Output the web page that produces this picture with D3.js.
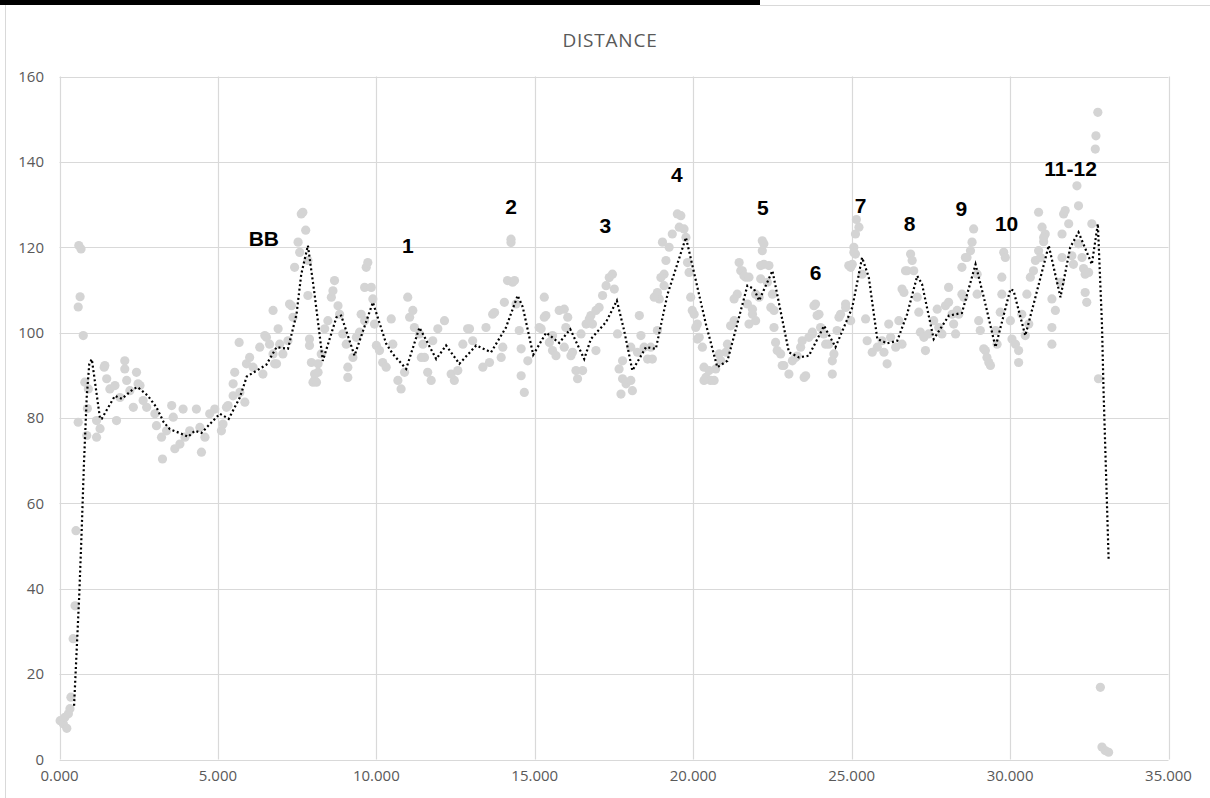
<!DOCTYPE html>
<html>
<head>
<meta charset="utf-8">
<script src="https://cdn.jsdelivr.net/npm/d3@7"></script>
<style>
  html, body { margin: 0; padding: 0; background: #fff; }
  svg { display: block; }
  .tickText { font-family: "Open Sans", sans-serif; font-size: 15px; fill: #595959; }
  .chartTitle { font-family: "Open Sans", sans-serif; font-size: 19px; letter-spacing: 0.8px; fill: #595959; }
  .lapLabel { font-family: "Liberation Sans", Arial, sans-serif; font-size: 21px; font-weight: bold; fill: #000; }
</style>
</head>
<body>
<div id="chart"></div>
<script>
// axis ticks
const xTicks = [0, 5, 10, 15, 20, 25, 30, 35];
const yTicks = [0, 20, 40, 60, 80, 100, 120, 140, 160];

// measured samples [km, distance]
const samples = [
  [0.02,9.1],[0.12,8.4],[0.23,7.3],[0.17,9.9],[0.28,10.7],[0.33,11.9],[0.36,14.6],[0.43,28.3],[0.49,36],[0.52,53.6],
  [0.59,79],[0.75,99.3],[0.61,120.4],[0.68,119.6],[0.59,106],[0.65,108.4],[0.80,88.4],[0.88,82.2],[0.86,75.9],[0.91,86.8],
  [1.17,75.5],[1.28,77.5],[1.17,79.4],[1.41,91.9],[1.43,92.3],[1.49,89.2],[1.59,86.8],[1.75,87.6],[1.80,79.4],[1.91,84.8],
  [2.06,93.4],[2.06,91.5],[2.12,88.8],[2.22,86.4],[2.33,82.5],[2.43,90.7],[2.54,87.6],[2.48,88],[2.64,84.1],[2.75,82.5],
  [3.01,81],[3.06,78.2],[3.22,75.5],[3.25,70.4],[3.38,77],[3.54,82.9],[3.59,80.2],[3.64,72.8],[3.80,73.9],[3.90,82.1],
  [3.96,75.5],[4.11,77],[4.32,82.1],[4.43,77.8],[4.48,72],[4.59,75.5],[4.74,81],[4.90,82.1],[5.11,77],[5.16,78.6],
  [5.27,82.5],[5.32,82.9],[5.48,88],[5.53,90.7],[5.48,85.2],[5.67,97.7],[5.69,86],[5.85,83.7],[5.90,92.7],[6.00,94.2],
  [6.11,91.9],[6.32,96.6],[6.42,90.3],[6.53,98.9],[6.74,95],[6.85,92.7],[6.95,97.3],
  [7.68,128.2],[7.63,127.8],[7.77,124],[7.53,121.2],[7.58,118.8],[7.42,115.3],[7.84,116.9],[7.84,108.7],[7.32,106.3],[6.74,105.2],
  [6.90,100.9],[6.48,99.3],[6.63,97.3],[6.79,92.7],[7.05,95],[7.21,98.1],[7.37,103.6],[7.89,97],[7.95,93],[8.05,88.8],
  [8.00,88.4],[8.16,90.7],[8.16,92.7],[8.26,95],[8.37,100.9],[8.47,102.8],[8.58,108.3],[8.68,112.2],[8.63,109.8],[8.79,106.3],
  [8.84,104.3],[8.94,99.7],[9.05,97.3],[9.10,91.9],[9.10,89.5],[9.26,94.2],[9.37,98.9],[9.47,100.1],[9.52,104.3],[9.63,102.8],
  [9.68,115.3],[9.73,116.4],[9.63,110.6],[9.84,110.6],[9.89,107.9],[9.94,102],[10.00,97],[10.10,95.8],[10.20,93],[10.31,91.9],
  [10.47,103.2],[10.52,97.3],[10.68,88.8],[10.78,86.8],[10.89,90.7],[10.99,108.3],[11.05,103.6],[11.15,105.2],[11.20,101.2],[11.36,99.7],
  [11.47,97.3],[11.52,94.2],[11.62,90.7],[11.73,88.8],[11.78,98.1],[11.94,100.9],[12.15,102.8],[7.26,106.7],[7.89,98.5],[8.05,90.3],[8.11,88.4],
  [11.42,94.2],[12.46,88.8],[12.36,90.3],[12.88,100.9],[13.36,91.9],[13.46,101.2],[13.73,104.7],[13.94,94.2],[14.04,107.1],[14.14,112.2],
  [14.30,111.8],[14.25,121.9],[14.25,121.1],[14.51,100.5],[14.57,89.9],[14.67,86],[14.78,93.4],[15.30,108.3],[15.30,103.6],[15.20,100.9],
  [15.56,99.3],[15.77,105.2],[15.93,96.6],[16.04,103.6],[16.14,94.6],[16.30,91.1],[16.35,89.2],[16.51,91.1],[16.62,102],[16.77,104],
  [16.93,105.2],[12.57,91.1],[12.73,97.3],[12.94,100.9],[13.04,98.1],[13.57,93],[13.67,104.3],[13.99,96.6],[14.36,112.2],[14.41,106.7],
  [14.57,96.2],[15.14,101.2],[15.35,104],[15.46,97.7],[15.56,95.8],[15.67,94.6],[15.93,105.5],[15.98,101.2],[16.19,95.4],[16.46,99.7],
  [16.72,103.2],[16.82,102],[16.93,95.8],[17.03,105.9],[17.14,108.7],[17.25,111],[17.35,112.9],[17.45,113.7],[17.51,110.2],[17.61,99.7],
  [17.66,91.5],[17.77,93.4],[17.77,89.2],[17.72,85.6],[17.88,88],[18.03,88.8],[18.08,86.4],[18.03,96.6],[18.30,104],[18.35,99.3],
  [18.45,96.6],[18.24,95.4],[18.56,93.8],[18.66,96.6],
  [18.87,100.5],[18.93,107.9],[19.08,113.7],[19.14,116.9],[19.03,121.2],[19.24,120],[19.34,123.1],[19.50,127.8],[19.61,127.4],[19.56,124.7],
  [19.71,124.3],[19.77,122.3],[19.82,116.4],[19.87,114.1],[19.92,108.3],[20.03,104.3],[20.13,102],[20.13,98.5],[20.29,96.6],[20.34,91.9],
  [20.40,89.5],[20.55,88.8],[20.71,91.5],[20.87,93.4],[21.03,95.4],[21.29,102.8],[21.39,109],[21.45,116.4],[21.55,114.5],[21.66,113],
  [21.71,106.7],[21.76,102],[21.87,104.3],[21.97,109],[22.13,112.6],[22.18,119.2],[22.23,120.8],[22.23,116],[22.39,115.7],[22.50,109],
  [22.45,105.9],[22.55,101.2],[22.60,97.7],[22.76,95],[22.86,92.3],[23.02,90.3],[23.23,94.2],[23.39,96.6],[23.55,89.9],[23.76,99.7],
  [23.86,106.7],[23.97,104.3],[24.18,97.3],[24.39,90.3],[24.44,95],[24.60,103.6],[24.81,106.7],[24.97,102.8],[25.07,120],[25.12,123.1],
  [25.23,124.7],[25.02,116],[25.12,118.4],[18.98,112.9],[19.08,111],[18.87,109.4],[18.77,108.3],[18.71,93.8],[19.97,105.2],[20.08,101.2],
  [20.19,98.9],[20.34,88.8],[20.50,91.1],[20.66,88.8],[20.82,95],[21.08,97.3],[21.18,101.6],[21.29,107.9],[21.50,114.5],[21.60,113.3],
  [21.76,113],[21.87,105.5],[21.97,102.8],[22.08,108.3],[22.18,121.5],[22.13,115.7],[22.34,111.8],[22.55,105.2],[22.65,95.8],[22.81,92.3],
  [23.13,93.4],[23.28,94.5],[23.50,89.5],[23.44,98.1],[23.65,98.9],[23.76,100.1],[23.81,106.3],[23.91,104],[24.02,101.2],[24.12,99.7],
  [24.28,97.3],[24.39,93.4],[24.54,100.5],[24.65,104.3],[24.81,105.9],[24.91,115.7],
  [25.07,118.8],[25.15,126.5],[24.97,115.3],[25.33,113.7],[25.44,103.2],[25.49,98.1],[25.65,95.4],[25.81,96.6],[25.96,98.1],[26.02,95.4],
  [26.12,92.7],[26.17,102],[26.23,98.9],[26.39,96.6],[26.49,102.8],[26.59,97.3],[26.70,114.5],[26.75,114.5],[26.86,118.4],[26.91,116.9],
  [26.96,114.5],[26.59,110.2],[26.65,109.4],[27.07,108.3],[27.12,104.8],[27.17,100.1],[27.28,98.9],[27.33,95.8],[27.43,99.7],[27.59,102.8],
  [27.70,105.5],[27.75,101.2],[27.85,99.7],[27.96,106.3],[28.06,110.6],[28.06,107.1],[28.17,104.3],[28.22,102],[28.33,105.2],[28.38,104.3],
  [28.28,99.7],[28.48,109],[28.54,108.3],[28.48,115.3],[28.59,117.6],[28.64,117.6],[28.75,119.2],[28.80,121.2],[28.85,124.3],[28.96,113.7],
  [28.96,109],[29.01,102.8],[29.06,100.5],[29.17,96.2],[29.22,95.8],[29.27,94.2],[29.33,93],[29.38,92.3],[29.54,100.5],[29.59,97.3],
  [29.69,104.8],[29.74,113],[29.80,118.8],[29.85,117.6],[29.74,109],[30.01,102.8],[30.06,98.5],[30.17,97.3],[30.27,95.8],[30.27,93],
  [30.37,104.3],[30.48,99.3],[30.59,102],[30.53,109],[30.64,113],[30.74,114.5],[30.80,116.9],[30.90,119.2],[30.90,128.2],[31.01,124.7],
  [31.11,123.1],[31.06,121.3],
  [31.06,122.3],[30.96,117.6],[31.32,107.9],[31.43,105.2],[31.32,101.2],[31.32,97.3],[31.59,111.8],[31.64,117.6],[31.64,123.1],[31.69,127.8],
  [31.74,128.6],[31.85,125.5],[31.95,118],[32.00,116],[32.11,134.4],[32.16,129.7],[32.16,120.8],[32.27,117.6],[32.32,115],[32.37,113.7],
  [32.48,114.1],[32.37,109.4],[32.42,107.1],[32.58,125.5],[32.69,143],[32.71,146.1],[32.77,151.6],[32.79,89.2],[32.85,16.9],[32.90,2.9],
  [33.00,2.1],[33.11,1.7]
];

// moving average trendline [km, distance]
const trend = [
  [0.46,12.6],[0.62,38],[0.70,53.6],[0.77,69],[0.86,85],[0.94,92.7],[1.02,93.8],[1.28,79.8],[1.33,79.8],[1.75,85.2],
  [1.97,84.5],[2.33,86.8],[2.47,87.2],[2.79,85.2],[3.06,82.5],[3.29,79],[3.48,77.4],[3.85,76.3],[4.06,75.6],[4.27,77],
  [4.48,76.5],[4.80,79],[5.06,81],[5.34,79.8],[5.69,84.8],[5.91,89.7],[6.22,91.1],[6.53,92.5],[6.85,96.6],[7.21,96.2],
  [7.48,104.3],[7.63,113.7],[7.84,120.4],[8.05,109],[8.31,93.4],[8.74,103.6],[8.89,104],[9.31,94.6],[9.89,107.1],[10.31,97.4],
  [10.52,95],[10.94,91.5],[11.36,101.2],[11.89,93.8],[12.20,97],[12.62,92.7],[13.15,97],[13.62,95.4],[14.09,101.2],[14.46,108.7],
  [14.62,106],[14.95,94.8],[15.36,100],[15.77,97.6],[16.12,100.8],[16.56,93.8],[16.77,98.5],[17.25,102.5],[17.59,107.5],[17.82,100.5],
  [18.08,91.1],[18.51,96.6],[18.82,96.2],[19.19,109],[19.77,122.3],[20.40,102],[20.76,91.9],[21.08,93.4],[21.71,111],[21.92,110.2],
  [22.08,107.5],[22.50,114.5],[23.02,95.4],[23.34,94.2],[23.65,94.6],[24.13,101.6],[24.49,96.6],[25.02,105.9],[25.33,117.6],[25.54,113],
  [25.81,98.5],[26.12,97.5],[26.44,98.1],[26.75,104.3],[27.07,113.3],[27.22,111.4],[27.59,98.5],[28.07,104],[28.48,104.6],[28.91,116],
  [29.17,108.3],[29.54,96.6],[30.01,110.2],[30.11,109.8],[30.48,99.3],[30.80,108.3],[31.22,120.4],[31.59,108.3],[31.90,120],[32.16,123.5],
  [32.58,116],[32.77,125.5],[32.90,102],[32.95,86.4],[33.11,47]
];

// lap annotations
const lapNames = ['BB', '1', '2', '3', '4', '5', '6', '7', '8', '9', '10', '11-12'];
const lapKm = [6.45, 10.99, 14.25, 17.23, 19.48, 22.2, 23.86, 25.28, 26.83, 28.46, 29.89, 31.91];
const lapDist = [121.9, 120.4, 129.5, 125.1, 136.9, 129.3, 114.1, 129.7, 125.5, 129.1, 125.6, 138.4];

const width = 1210, height = 798;
const svg = d3.select('#chart').append('svg')
  .attr('width', width)
  .attr('height', height);

// screenshot frame
svg.append('rect').attr('x', 0).attr('y', 0).attr('width', 760).attr('height', 5).attr('fill', '#000');
svg.append('line').attr('x1', 760).attr('x2', width).attr('y1', 5.5).attr('y2', 5.5).attr('stroke', '#d9d9d9');
svg.append('line').attr('x1', 5.5).attr('x2', 5.5).attr('y1', 5).attr('y2', height).attr('stroke', '#d9d9d9');

const x = d3.scaleLinear().domain([0, 35]).range([59.5, 1168.5]);
const y = d3.scaleLinear().domain([0, 160]).range([759.5, 76.5]);

// gridlines
svg.append('g')
  .selectAll('line')
  .data(xTicks)
  .join('line')
  .attr('x1', d => Math.round(x(d)) + 0.5)
  .attr('x2', d => Math.round(x(d)) + 0.5)
  .attr('y1', y(160))
  .attr('y2', y(0))
  .attr('stroke', '#d9d9d9')
  .attr('stroke-width', 1.2);

svg.append('g')
  .selectAll('line')
  .data(yTicks)
  .join('line')
  .attr('x1', x(0))
  .attr('x2', x(35))
  .attr('y1', d => Math.round(y(d)) + 0.5)
  .attr('y2', d => Math.round(y(d)) + 0.5)
  .attr('stroke', '#d9d9d9')
  .attr('stroke-width', 1.2);

// tick labels
svg.append('g')
  .selectAll('text')
  .data(yTicks)
  .join('text')
  .attr('class', 'tickText')
  .attr('x', 44)
  .attr('y', d => y(d))
  .attr('dy', '0.35em')
  .attr('text-anchor', 'end')
  .text(d => d);

svg.append('g')
  .selectAll('text')
  .data(xTicks)
  .join('text')
  .attr('class', 'tickText')
  .attr('x', d => x(d))
  .attr('y', 781)
  .attr('text-anchor', 'middle')
  .text(d3.format('.3f'));

// title
svg.append('text')
  .attr('class', 'chartTitle')
  .attr('x', 610)
  .attr('y', 47)
  .attr('text-anchor', 'middle')
  .text('DISTANCE');

// scatter points
svg.append('g')
  .selectAll('circle')
  .data(samples)
  .join('circle')
  .attr('cx', d => x(d[0]))
  .attr('cy', d => y(d[1]))
  .attr('r', 4.6)
  .attr('fill', '#d4d4d4');

// dotted moving average
const line = d3.line()
  .x(d => x(d[0]))
  .y(d => y(d[1]));

svg.append('path')
  .datum(trend)
  .attr('d', line)
  .attr('fill', 'none')
  .attr('stroke', '#000')
  .attr('stroke-width', 2.2)
  .attr('stroke-dasharray', '2 2.6');

// lap labels
svg.append('g')
  .selectAll('text')
  .data(lapNames)
  .join('text')
  .attr('class', 'lapLabel')
  .attr('x', (d, i) => x(lapKm[i]))
  .attr('y', (d, i) => y(lapDist[i]))
  .attr('dy', '0.35em')
  .attr('text-anchor', 'middle')
  .text(d => d);
</script>
</body>
</html>
